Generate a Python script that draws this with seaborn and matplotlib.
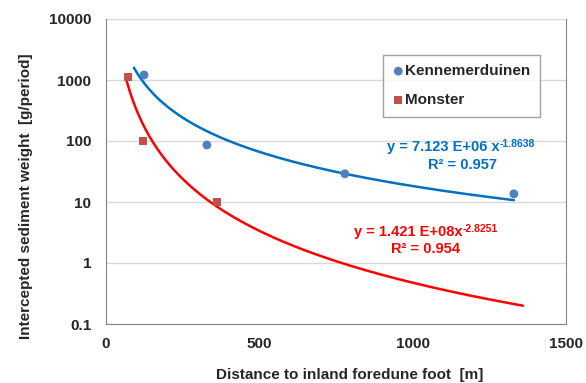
import numpy as np
import pandas as pd
import matplotlib
matplotlib.use("Agg")
import matplotlib.pyplot as plt
import seaborn as sns

# -------------------------------
# Data
# -------------------------------
kenn_dist = [124, 329, 779, 1330]
kenn_weight = [1210, 86, 29, 13.6]

mon_dist = [72, 121, 362]
mon_weight = [1120, 100, 10]

# power-law trendlines as printed on the chart
kenn_coef, kenn_exp = 7.123e6, -1.8638
mon_coef, mon_exp = 1.421e8, -2.8251
kenn_range = [91, 1330]
mon_range = [63, 1360]

W, H = 586, 383

sns.set_style("white")
plt.rcParams["font.family"] = ["Liberation Sans", "DejaVu Sans"]
plt.rcParams["font.weight"] = "bold"

fig = plt.figure(figsize=(W / 100, H / 100), dpi=100)
ax = fig.add_axes([106 / W, 1 - 324 / H, 460 / W, 305 / H])

# trendlines
kx = np.linspace(kenn_range[0], kenn_range[1], 200)
mx = np.linspace(mon_range[0], mon_range[1], 200)
sns.lineplot(x=kx, y=kenn_coef * kx ** kenn_exp, ax=ax, color="#0070C0", lw=1.8, zorder=2)
sns.lineplot(x=mx, y=mon_coef * mx ** mon_exp, ax=ax, color="#FF0000", lw=1.8, zorder=2)

# measured points
kenn = pd.DataFrame({"x": kenn_dist, "y": kenn_weight})
mon = pd.DataFrame({"x": mon_dist, "y": mon_weight})
sns.scatterplot(data=kenn, x="x", y="y", ax=ax, color="#4F81BD", marker="o", s=40,
                edgecolor="none", label="Kennemerduinen", zorder=3)
sns.scatterplot(data=mon, x="x", y="y", ax=ax, color="#C0504D", marker="s", s=34,
                edgecolor="none", label="Monster", zorder=3)

ax.set_yscale("log")
ax.set_xlim(0, 1500)
ax.set_ylim(0.1, 10000)
ax.set_xticks([0, 500, 1000, 1500])
ax.set_yticks([0.1, 1, 10, 100, 1000, 10000])
ax.set_yticklabels(["0.1", "1", "10", "100", "1000", "10000"])
ax.minorticks_off()
ax.grid(axis="y", color="#D9D9D9", lw=1)
ax.set_axisbelow(True)

for side in ["left", "bottom", "right"]:
    ax.spines[side].set_color("#868686")
ax.spines["top"].set_visible(False)
ax.tick_params(axis="both", length=4.5, color="#868686", labelsize=11, pad=6)
ax.tick_params(axis="x", pad=5)
for lab in ax.get_xticklabels() + ax.get_yticklabels():
    lab.set_fontweight("bold")

ax.set_xlabel("Distance to inland foredune foot  [m]", fontsize=11, fontweight="bold")
ax.set_ylabel("Intercepted sediment weight  [g/period]", fontsize=11, fontweight="bold")
ax.xaxis.set_label_coords((350 - 106) / 460, (324 - 368) / 305, transform=ax.transAxes)
ax.yaxis.set_label_coords((33 - 106) / 460, (324 - 196) / 305, transform=ax.transAxes)

leg = ax.legend(loc="upper left", bbox_to_anchor=((383 - 106) / 460, 1 - (55 - 19) / 305),
                frameon=True, fancybox=False, edgecolor="#8C8C8C", fontsize=11,
                handletextpad=0.05, borderpad=0.6, labelspacing=1.0,
                markerscale=1.0, handlelength=0.8, borderaxespad=0)
leg.get_frame().set_linewidth(1.0)
for t in leg.get_texts():
    t.set_fontweight("bold")


def equation(x0, y0, main, sup, r2, r2_x, r2_y, color):
    t = fig.text(x0 / W, 1 - y0 / H, main, ha="left", va="center",
                 color=color, fontsize=10.5, fontweight="bold")
    ax.annotate(sup, xy=(1.0, 1.08), xycoords=t, ha="left", va="top",
                color=color, fontsize=7.5, fontweight="bold")
    fig.text(r2_x / W, 1 - r2_y / H, r2, ha="center", va="center",
             color=color, fontsize=10.5, fontweight="bold")


equation(387, 147, "y = 7.123 E+06 x", "-1.8638", "R² = 0.957", 462, 165, "#0070C0")
equation(354, 232, "y = 1.421 E+08x", "-2.8251", "R² = 0.954", 426, 249, "#FF0000")

fig.savefig("out.png", dpi=100)
